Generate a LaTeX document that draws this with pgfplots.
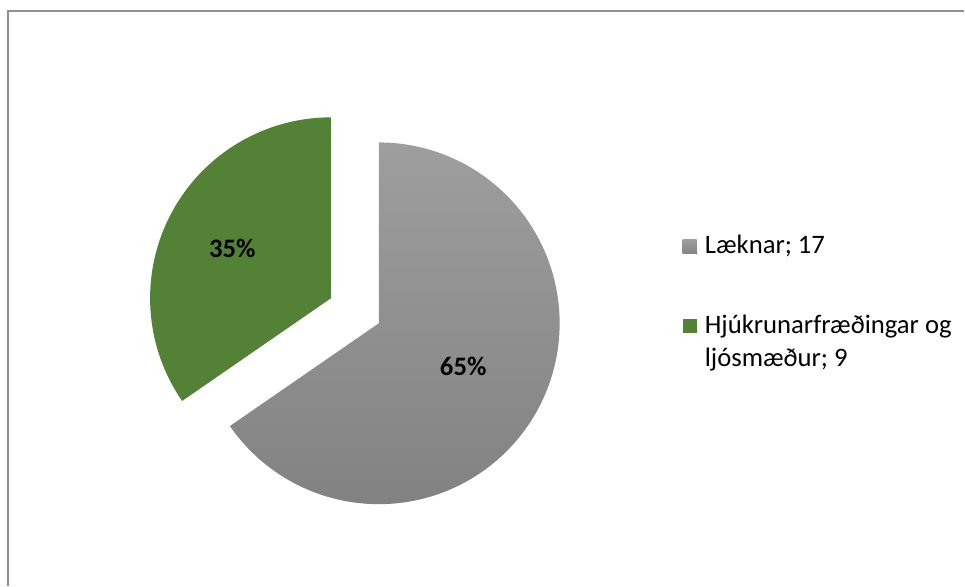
\documentclass[border=0pt]{standalone}
\usepackage{pgfplots}
\pgfplotsset{compat=1.18}
\usepackage{pgfplotstable}
\usepackage{fontspec}
\setmainfont{Carlito}

\definecolor{piegreen}{RGB}{83,129,53}
\definecolor{graytop}{RGB}{158,158,158}
\definecolor{graybot}{RGB}{130,130,130}
\definecolor{framegray}{RGB}{145,145,145}

\pgfplotstableread{
id value
0 17
1 9
}\piedata
\pgfplotstablegetelem{0}{value}\of\piedata \let\valA\pgfplotsretval
\pgfplotstablegetelem{1}{value}\of\piedata \let\valB\pgfplotsretval
\pgfmathsetmacro\tot{\valA+\valB}
\pgfmathsetmacro\angA{360*\valA/\tot}
\pgfmathsetmacro\angB{360*\valB/\tot}
\pgfmathsetmacro\startA{90-\angA}
\pgfmathsetmacro\endB{90+\angB}
\pgfmathsetmacro\midB{90+\angB/2}
\pgfmathsetmacro\gx{379+54*cos(\midB)}
\pgfmathsetmacro\gy{262.5+54*sin(\midB)}

\begin{document}%
\begin{tikzpicture}%
\begin{axis}[
  x=0.75pt, y=0.75pt,
  xmin=0, xmax=965, ymin=0, ymax=586,
  enlargelimits=false,
  axis lines=none, ticks=none, clip=false,
]
\path (axis cs:0,0) rectangle (axis cs:965,586);
% frame (top and left edges)
\draw[framegray, line width=0.9pt] (axis cs:8,0) -- (axis cs:8,575) -- (axis cs:965,575);

% grey slice (Læknar)
\addplot[draw=none, top color=graytop, bottom color=graybot,
  domain=\startA:90, samples=150]
  ({379+181*cos(x)},{262.5+181*sin(x)}) -- (axis cs:379,262.5) -- cycle;

% green slice (exploded)
\addplot[draw=none, fill=piegreen, domain=90:\endB, samples=100]
  ({\gx+181*cos(x)},{\gy+181*sin(x)}) -- (axis cs:\gx,\gy) -- cycle;

% data labels
\node[anchor=base, inner sep=0pt, font=\fontsize{20}{24}\selectfont\bfseries]
  at (axis cs:232.5,328) {35\%};
\node[anchor=base, inner sep=0pt, font=\fontsize{20}{24}\selectfont\bfseries]
  at (axis cs:463.5,210) {65\%};

% legend
\fill[top color=graytop, bottom color=graybot] (axis cs:683,332) rectangle (axis cs:697,346);
\node[anchor=base west, inner sep=0pt, font=\fontsize{20}{24}\selectfont]
  at (axis cs:705,332) {Læknar; 17};
\fill[piegreen] (axis cs:683,253) rectangle (axis cs:697,267);
\node[anchor=base west, inner sep=0pt, font=\fontsize{20}{24}\selectfont]
  at (axis cs:705,252) {Hjúkrunarfræðingar og};
\node[anchor=base west, inner sep=0pt, font=\fontsize{20}{24}\selectfont]
  at (axis cs:705,219) {ljósmæður; 9};
\end{axis}%
\end{tikzpicture}%
\end{document}
